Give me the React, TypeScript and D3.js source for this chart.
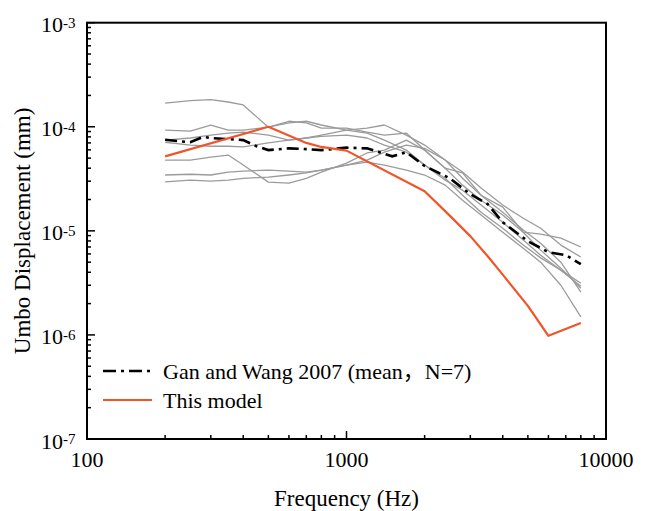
import React from "react";
import * as d3 from "d3";

const grayFreq = [200, 250, 300, 350, 400, 500, 600, 700, 800, 1000, 1200, 1400, 1700, 2000, 2400, 2800, 3300, 4000, 4800, 5600, 6700, 8000];
const grayA = [1.69e-4, 1.78e-4, 1.82e-4, 1.73e-4, 1.62e-4, 9.9e-5, 1.09e-4, 1.13e-4, 1.04e-4, 9.3e-5, 8.7e-5, 7.45e-5, 5.97e-5, 4.29e-5, 3.07e-5, 2.46e-5, 1.77e-5, 1.21e-5, 8.15e-6, 5.84e-6, 4.19e-6, 3.14e-6];
const grayB = [9.3e-5, 9.1e-5, 1.04e-4, 9.3e-5, 9.3e-5, 9.9e-5, 1.13e-4, 1.09e-4, 9.7e-5, 9.7e-5, 8.9e-5, 8.3e-5, 8.7e-5, 5.97e-5, 4.0e-5, 3.6e-5, 2.2e-5, 1.69e-5, 9.7e-6, 9.3e-6, 8.5e-6, 7.0e-6];
const grayC = [4.79e-5, 4.79e-5, 5.1e-5, 5.35e-5, 4.29e-5, 2.94e-5, 2.88e-5, 3.2e-5, 3.67e-5, 4.48e-5, 5.6e-5, 5.97e-5, 7.45e-5, 5.97e-5, 4.0e-5, 2.75e-5, 1.97e-5, 1.42e-5, 9.7e-6, 6.53e-6, 4.38e-6, 2.81e-6];
const grayD = [3.44e-5, 3.5e-5, 3.44e-5, 3.67e-5, 3.75e-5, 3.84e-5, 3.75e-5, 3.67e-5, 3.84e-5, 4.29e-5, 4.79e-5, 5.7e-5, 6.67e-5, 6.2e-5, 4.79e-5, 3.2e-5, 2.2e-5, 1.51e-5, 1.02e-5, 7.6e-6, 5.0e-6, 2.58e-6];
const grayE = [2.96e-5, 3.07e-5, 3.0e-5, 3.07e-5, 3.2e-5, 3.28e-5, 3.44e-5, 3.6e-5, 3.84e-5, 4.29e-5, 4.58e-5, 4.29e-5, 3.84e-5, 3.44e-5, 2.75e-5, 1.97e-5, 1.42e-5, 9.7e-6, 6.8e-6, 5.0e-6, 3.0e-6, 1.49e-6];
const grayF = [7.1e-5, 6.67e-5, 6.5e-5, 6.5e-5, 6.4e-5, 7.0e-5, 7.45e-5, 7.8e-5, 8.3e-5, 9.3e-5, 9.7e-5, 1.04e-4, 8.3e-5, 6.67e-5, 4.79e-5, 3.67e-5, 2.58e-5, 1.77e-5, 1.32e-5, 1.06e-5, 7.3e-6, 5.6e-6];
const grayG = [7.45e-5, 7.8e-5, 8.3e-5, 8.7e-5, 8.9e-5, 8.3e-5, 7.45e-5, 7.8e-5, 8.1e-5, 8.3e-5, 7.8e-5, 6.67e-5, 5.7e-5, 4.29e-5, 3.2e-5, 2.2e-5, 1.51e-5, 1.06e-5, 7.3e-6, 5.5e-6, 4.19e-6, 2.94e-6];
const graySeries = [grayA, grayB, grayC, grayD, grayE, grayF, grayG];

const meanFreq = [200, 250, 280, 300, 400, 450, 500, 600, 700, 800, 1000, 1200, 1500, 1700, 2000, 2500, 3000, 3500, 4000, 5000, 6000, 7000, 8000];
const meanValues = [7.5e-5, 7.1e-5, 8.0e-5, 7.8e-5, 7.45e-5, 6.5e-5, 5.97e-5, 6.2e-5, 6.1e-5, 5.97e-5, 6.3e-5, 6.2e-5, 5.2e-5, 5.7e-5, 4.2e-5, 3.2e-5, 2.25e-5, 1.81e-5, 1.21e-5, 7.96e-6, 6.24e-6, 5.84e-6, 4.79e-6];

const modelFreq = [200, 500, 700, 800, 1000, 2000, 2500, 3000, 3500, 4000, 5000, 6000, 8000];
const modelValues = [5.2e-5, 1.0e-4, 7.0e-5, 6.4e-5, 5.9e-5, 2.4e-5, 1.4e-5, 8.9e-6, 5.7e-6, 3.8e-6, 1.9e-6, 9.8e-7, 1.3e-6];

const xMajor = [100, 1000, 10000];
const xMajorLabels = ["100", "1000", "10000"];
const yMajor = [1e-7, 1e-6, 1e-5, 1e-4, 1e-3];
const yExponents = ["-7", "-6", "-5", "-4", "-3"];
const legendLabels = ["Gan and Wang 2007 (mean，N=7)", "This model"];

const W = 650, H = 511;
const L = 87, R = 606, T = 22.7, B = 439;
const SERIF = "'Liberation Serif', 'Times New Roman', 'Noto Sans CJK SC', serif";
const RED = "#f0552a";
const GRAY = "#9b9b9b";
const txt = { fontFamily: SERIF };

export default function App() {
  const x = d3.scaleLog().domain([100, 10000]).range([L, R]);
  const y = d3.scaleLog().domain([1e-7, 1e-3]).range([B, T]);
  const line = (fs: number[]) =>
    d3.line<number>().x((_, i) => x(fs[i])).y((v) => y(v));

  const xMinor: number[] = [];
  for (const d of [100, 1000]) for (let k = 2; k <= 9; k++) xMinor.push(d * k);
  const yMinor: number[] = [];
  for (const d of [1e-7, 1e-6, 1e-5, 1e-4]) for (let k = 2; k <= 9; k++) yMinor.push(d * k);

  return (
    <svg width={W} height={H} style={{ position: "absolute", left: 0, top: 0, background: "#fff", fontFamily: SERIF }}>
      <rect x={0} y={0} width={W} height={H} fill="#fff" />
      {graySeries.map((s, i) => (
        <path key={i} d={line(grayFreq)(s) || ""} fill="none" stroke={GRAY} strokeWidth={1.3} strokeLinejoin="round" />
      ))}
      <path d={line(meanFreq)(meanValues) || ""} fill="none" stroke="#000" strokeWidth={2.6} strokeDasharray="12 5 3 5" />
      <path d={line(modelFreq)(modelValues) || ""} fill="none" stroke={RED} strokeWidth={2.2} strokeLinejoin="round" />

      <rect x={L} y={T} width={R - L} height={B - T} fill="none" stroke="#000" strokeWidth={2} />

      {xMajor.map((v) => (
        <line key={"xm" + v} x1={x(v)} x2={x(v)} y1={B} y2={B - 8} stroke="#000" strokeWidth={1.5} />
      ))}
      {xMinor.map((v) => (
        <line key={"xn" + v} x1={x(v)} x2={x(v)} y1={B} y2={B - 4} stroke="#000" strokeWidth={1.5} />
      ))}
      {xMajor.map((v, i) => (
        <text key={"xl" + v} style={txt} x={x(v)} y={467} fontSize={22} textAnchor="middle" fill="#000">{xMajorLabels[i]}</text>
      ))}

      {yMajor.map((v) => (
        <line key={"ym" + v} x1={L} x2={L + 8} y1={y(v)} y2={y(v)} stroke="#000" strokeWidth={1.5} />
      ))}
      {yMinor.map((v) => (
        <line key={"yn" + v} x1={L} x2={L + 4} y1={y(v)} y2={y(v)} stroke="#000" strokeWidth={1.5} />
      ))}
      {yMajor.map((v, i) => (
        <g key={"yl" + v}>
          <text style={txt} x={63} y={y(v) + 9.5} fontSize={22} textAnchor="end" fill="#000">10</text>
          <text style={txt} x={63} y={y(v) + 5} fontSize={15} textAnchor="start" fill="#000">{yExponents[i]}</text>
        </g>
      ))}

      <text style={txt} x={(L + R) / 2} y={506} fontSize={23} textAnchor="middle" fill="#000">Frequency (Hz)</text>
      <text style={txt} transform={`translate(30,${(T + B) / 2}) rotate(-90)`} fontSize={23} textAnchor="middle" fill="#000">Umbo Displacement (mm)</text>

      <line x1={103} x2={152} y1={371} y2={371} stroke="#000" strokeWidth={2.6} strokeDasharray="13 5 3 5" />
      <text style={txt} x={163} y={379} fontSize={22} fill="#000">{legendLabels[0]}</text>
      <line x1={103} x2={152} y1={400} y2={400} stroke={RED} strokeWidth={2.2} />
      <text style={txt} x={163} y={408} fontSize={22} fill="#000">{legendLabels[1]}</text>
    </svg>
  );
}
